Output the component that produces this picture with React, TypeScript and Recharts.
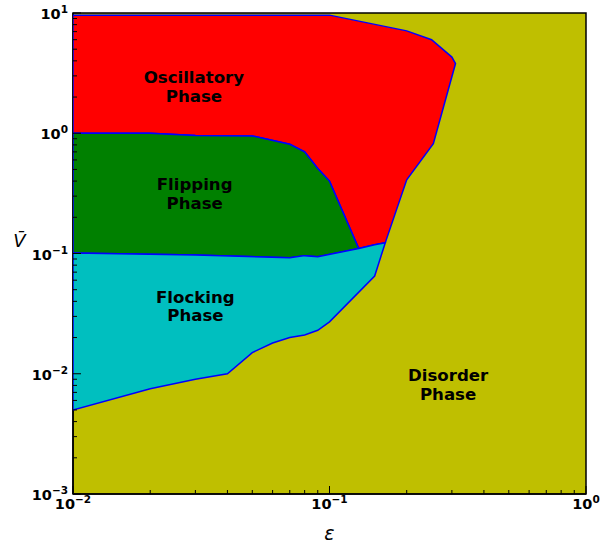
import React from 'react';
import { ComposedChart, XAxis, YAxis, Scatter, ReferenceArea, Label } from 'recharts';

// Boundary curves of the phase diagram (epsilon, V-bar)
const oscTop: [number, number][] = [
  [0.01, 9.6], [0.1, 9.6], [0.2, 7.1], [0.25, 6.0], [0.3, 4.3], [0.31, 3.8],
];
const oscRight: [number, number][] = [
  [0.254, 0.82], [0.2, 0.41], [0.165, 0.123],
];
const flipTop: [number, number][] = [
  [0.01, 1.0], [0.02, 1.0], [0.03, 0.96], [0.05, 0.95], [0.07, 0.81],
  [0.08, 0.7], [0.09, 0.51], [0.1, 0.4], [0.13, 0.11],
];
const flockTop: [number, number][] = [
  [0.01, 0.101], [0.03, 0.097], [0.07, 0.092], [0.08, 0.096], [0.09, 0.094],
  [0.13, 0.11], [0.15, 0.118], [0.165, 0.123],
];
const flockBottom: [number, number][] = [
  [0.01, 0.005], [0.02, 0.0075], [0.03, 0.009], [0.04, 0.01], [0.05, 0.015],
  [0.06, 0.018], [0.07, 0.02], [0.08, 0.021], [0.09, 0.023], [0.1, 0.027],
  [0.15, 0.065], [0.165, 0.123],
];

const phaseLabels = [
  { x: 0.0296, y: 2.45, l1: 'Oscillatory', l2: 'Phase' },
  { x: 0.0298, y: 0.318, l1: 'Flipping', l2: 'Phase' },
  { x: 0.03, y: 0.0367, l1: 'Flocking', l2: 'Phase' },
  { x: 0.29, y: 0.00819, l1: 'Disorder', l2: 'Phase' },
];

const xTicks = [
  0.01, 0.02, 0.03, 0.04, 0.05, 0.06, 0.07, 0.08, 0.09,
  0.1, 0.2, 0.3, 0.4, 0.5, 0.6, 0.7, 0.8, 0.9, 1,
];
const yTicks = [
  0.001, 0.002, 0.003, 0.004, 0.005, 0.006, 0.007, 0.008, 0.009,
  0.01, 0.02, 0.03, 0.04, 0.05, 0.06, 0.07, 0.08, 0.09,
  0.1, 0.2, 0.3, 0.4, 0.5, 0.6, 0.7, 0.8, 0.9,
  1, 2, 3, 4, 5, 6, 7, 8, 9, 10,
];

const toPts = (arr: [number, number][]) => arr.map(([x, y]) => ({ x, y }));
const rev = (arr: [number, number][]) => [...arr].reverse();

const oscPoly = toPts([
  ...oscTop,
  ...oscRight,
  ...rev(flockTop).slice(1, 3),
  ...rev(flipTop).slice(1),
  oscTop[0],
]);
const flipPoly = toPts([
  ...flipTop,
  ...rev(flockTop).slice(3),
  flipTop[0],
]);
const flockPoly = toPts([
  ...flockTop,
  ...rev(flockBottom).slice(1),
  flockTop[0],
]);

const FONT = 'DejaVu Sans, Verdana, sans-serif';

const supText = (v: number) => {
  const e = Math.round(Math.log10(v));
  return e < 0 ? '\u2212' + Math.abs(e) : String(e);
};
const isMajor = (v: number) => {
  const l = Math.log10(v);
  return Math.abs(l - Math.round(l)) < 1e-6;
};

const XTick = (props: any) => {
  const { x, y, payload } = props;
  const v = payload.value;
  const major = isMajor(v);
  return (
    <g>
      <line x1={x} x2={x} y1={y} y2={y - (major ? 8 : 4)} stroke="#000" strokeWidth={1} />
      {major && (
        <text x={x} y={y + 15} textAnchor="middle" fontFamily={FONT} fontWeight="bold" fontSize={14.5} fill="#000">
          10<tspan fontSize={10.5} dy={-6}>{supText(v)}</tspan>
        </text>
      )}
    </g>
  );
};

const YTick = (props: any) => {
  const { x, y, payload } = props;
  const v = payload.value;
  const major = isMajor(v);
  return (
    <g>
      <line x1={x} x2={x + (major ? 8 : 4)} y1={y} y2={y} stroke="#000" strokeWidth={1} />
      {major && (
        <text x={x - 5} y={y + 6} textAnchor="end" fontFamily={FONT} fontWeight="bold" fontSize={14.5} fill="#000">
          10<tspan fontSize={10.5} dy={-6}>{supText(v)}</tspan>
        </text>
      )}
    </g>
  );
};

const NoDot = () => <g />;

const PhaseText = (props: any) => {
  const { cx, cy, payload } = props;
  return (
    <text textAnchor="middle" fontFamily={FONT} fontWeight="bold" fontSize={16.6} fill="#000">
      <tspan x={cx} y={cy - 3}>{payload.l1}</tspan>
      <tspan x={cx} y={cy + 15.5}>{payload.l2}</tspan>
    </text>
  );
};

const XLabel = (props: any) => {
  const vb = props.viewBox;
  return (
    <text x={vb.x + vb.width / 2} y={vb.y + 46} textAnchor="middle" fontFamily={FONT} fontStyle="italic" fontSize={19} fill="#000">
      ε
    </text>
  );
};
const YLabel = () => (
  <text x={19.5} y={247} textAnchor="middle" fontFamily={FONT} fontStyle="italic" fontSize={18} fill="#000">
    V̄
  </text>
);

export default function App() {
  return (
    <div style={{ position: 'absolute', left: 0, top: 0 }}>
      <ComposedChart width={611} height={544} margin={{ top: 13, right: 25, bottom: 0, left: 0 }}>
        <XAxis
          type="number"
          dataKey="x"
          scale="log"
          domain={[0.01, 1]}
          allowDataOverflow
          ticks={xTicks}
          interval={0}
          tick={<XTick />}
          tickLine={false}
          tickSize={0}
          tickMargin={0}
          height={50}
          axisLine={{ stroke: '#000', strokeWidth: 1.5 }}
        >
          <Label content={<XLabel />} />
        </XAxis>
        <YAxis
          type="number"
          dataKey="y"
          scale="log"
          domain={[0.001, 10]}
          allowDataOverflow
          ticks={yTicks}
          interval={0}
          tick={<YTick />}
          tickLine={false}
          tickSize={0}
          tickMargin={0}
          width={73}
          axisLine={{ stroke: '#000', strokeWidth: 1.5 }}
        >
          <Label content={<YLabel />} />
        </YAxis>
        <ReferenceArea x1={0.01} x2={1} y1={0.001} y2={10} fill="#bfbf00" fillOpacity={1} stroke="none" />
        <Scatter
          data={oscPoly}
          line={{ fill: '#ff0000', stroke: '#0000ff', strokeWidth: 1.5 }}
          lineType="joint"
          shape={NoDot}
          isAnimationActive={false}
        />
        <Scatter
          data={flipPoly}
          line={{ fill: '#008000', stroke: '#0000ff', strokeWidth: 1.5 }}
          lineType="joint"
          shape={NoDot}
          isAnimationActive={false}
        />
        <Scatter
          data={flockPoly}
          line={{ fill: '#00bfbf', stroke: '#0000ff', strokeWidth: 1.5 }}
          lineType="joint"
          shape={NoDot}
          isAnimationActive={false}
        />
        <Scatter data={phaseLabels} shape={PhaseText} isAnimationActive={false} />
        <ReferenceArea x1={0.01} x2={1} y1={0.001} y2={10} fill="none" fillOpacity={0} stroke="#000" strokeWidth={1.5} />
      </ComposedChart>
    </div>
  );
}
